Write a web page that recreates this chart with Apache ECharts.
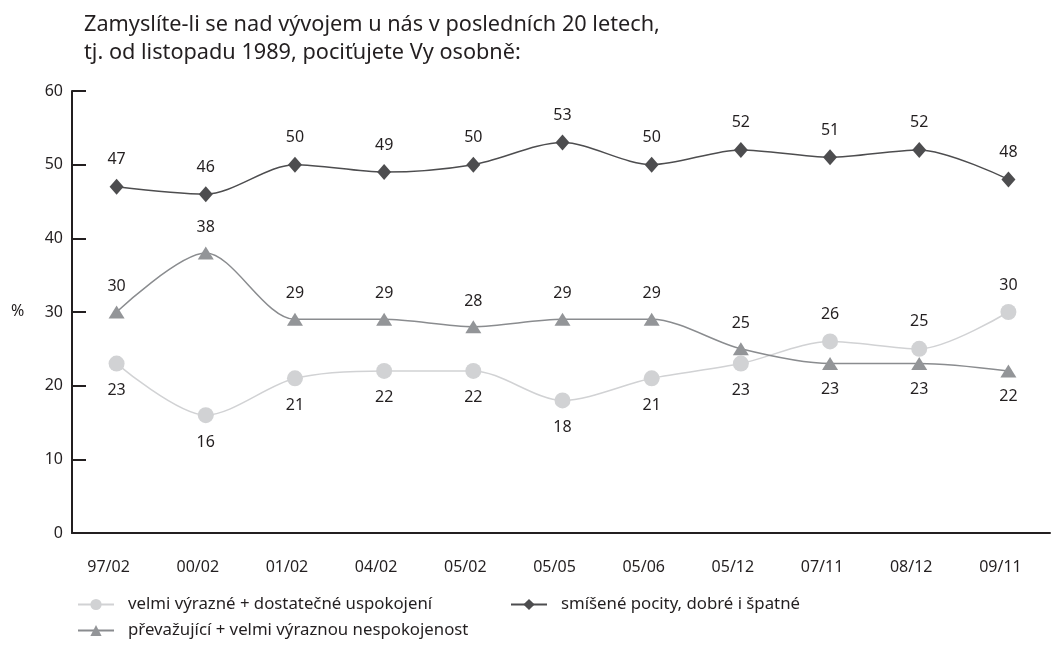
<!DOCTYPE html>
<html>
<head>
<meta charset="utf-8">
<script src="https://cdn.jsdelivr.net/npm/echarts@6/dist/echarts.min.js"></script>
<style>
  html, body { margin: 0; padding: 0; background: #fff; }
  #chart { width: 1053px; height: 647px; }
</style>
</head>
<body>
<div id="chart"></div>
<script>
// data
const categories = ['97/02', '00/02', '01/02', '04/02', '05/02', '05/05', '05/06', '05/12', '07/11', '08/12', '09/11']
const spokojeni = [23, 16, 21, 22, 22, 18, 21, 23, 26, 25, 30]
const smiseni = [47, 46, 50, 49, 50, 53, 50, 52, 51, 52, 48]
const nespokojeni = [30, 38, 29, 29, 28, 29, 29, 25, 23, 23, 22]
const yTicks = [0, 10, 20, 30, 40, 50, 60]

const nameSpok = 'velmi výrazné + dostatečné uspokojení'
const nameSmis = 'smíšené pocity, dobré i špatné'
const nameNesp = 'převažující + velmi výraznou nespokojenost'

const ink = '#231f20'
const font = 'Noto Sans'

let myChart = echarts.init(document.getElementById('chart'))

// popisky: kruh nad trojuhelnikem -> nahoru, jinak dolu
function withLabels (values, other, aboveIfGreater) {
  return values.map((v, i) => {
    let up = aboveIfGreater ? v > other[i] : v >= other[i]
    return { value: v, label: { position: up ? 'top' : 'bottom' } }
  })
}

let labelStyle = {
  show: true,
  color: ink,
  fontFamily: font,
  fontSize: 16,
  distance: 11
}

let legendBase = {
  padding: 0,
  itemWidth: 36,
  itemHeight: 14,
  itemGap: 12,
  textStyle: { color: ink, fontFamily: font, fontSize: 16.8, padding: [0, 0, 0, 9] }
}

let option = {
  backgroundColor: '#fff',
  animation: false,
  textStyle: { fontFamily: font },
  graphic: [
    {
      type: 'text',
      left: 84,
      top: 11,
      style: {
        text: 'Zamyslíte-li se nad vývojem u nás v posledních 20 letech,\ntj. od listopadu 1989, pociťujete Vy osobně:',
        font: '21.7px "Noto Sans"',
        fill: ink,
        lineHeight: 28
      }
    },
    {
      type: 'text',
      left: 11,
      top: 303,
      style: { text: '%', font: '16px "Noto Sans"', fill: ink }
    }
  ],
  grid: [
    { left: 72, right: 3, top: 91, bottom: 114 },
    { left: 72, width: 991, top: 91, bottom: 114 }
  ],
  legend: [
    Object.assign({ data: [nameSpok], left: 77, top: 596 }, legendBase),
    Object.assign({ data: [nameSmis], left: 510, top: 596 }, legendBase),
    Object.assign({ data: [nameNesp], left: 77, top: 622 }, legendBase)
  ],
  xAxis: [
    {
      type: 'category',
      gridIndex: 0,
      data: new Array(13).fill(''),
      boundaryGap: true,
      axisLine: { lineStyle: { color: ink, width: 2 } },
      axisTick: { inside: true, length: 9, lineStyle: { color: ink, width: 2 } },
      axisLabel: { show: false }
    },
    {
      type: 'category',
      gridIndex: 1,
      data: categories,
      boundaryGap: true,
      axisLine: { show: false },
      axisTick: { show: false },
      axisLabel: {
        color: ink,
        fontFamily: font,
        fontSize: 16,
        margin: 26,
        padding: [0, 16, 0, 0]
      }
    }
  ],
  yAxis: [
    {
      type: 'value',
      gridIndex: 0,
      min: yTicks[0],
      max: yTicks[yTicks.length - 1],
      interval: 10,
      axisLine: { show: true, lineStyle: { color: ink, width: 2 } },
      axisTick: { show: true, inside: true, length: 14, lineStyle: { color: ink, width: 2 } },
      axisLabel: { color: ink, fontFamily: font, fontSize: 16, margin: 9 },
      splitLine: { show: false }
    },
    {
      type: 'value',
      gridIndex: 1,
      min: yTicks[0],
      max: yTicks[yTicks.length - 1],
      show: false
    }
  ],
  series: [
    {
      name: nameSpok,
      type: 'line',
      xAxisIndex: 1,
      yAxisIndex: 1,
      smooth: 0.3,
      symbol: 'circle',
      symbolSize: 16,
      itemStyle: { color: '#d1d2d4' },
      lineStyle: { color: '#d1d2d4', width: 1.5 },
      label: labelStyle,
      data: withLabels(spokojeni, nespokojeni, true)
    },
    {
      name: nameSmis,
      type: 'line',
      xAxisIndex: 1,
      yAxisIndex: 1,
      smooth: 0.3,
      symbol: 'diamond',
      symbolSize: [14, 16],
      itemStyle: { color: '#4d4d4f' },
      lineStyle: { color: '#4d4d4f', width: 1.5 },
      label: Object.assign({}, labelStyle, { position: 'top' }),
      data: smiseni
    },
    {
      name: nameNesp,
      type: 'line',
      xAxisIndex: 1,
      yAxisIndex: 1,
      smooth: 0.3,
      symbol: 'triangle',
      symbolSize: [16, 13],
      itemStyle: { color: '#939598' },
      lineStyle: { color: '#8a8c8f', width: 1.5 },
      label: labelStyle,
      data: withLabels(nespokojeni, spokojeni, false)
    }
  ]
}
myChart.setOption(option)
window.onresize = function () {
  myChart.resize()
}
</script>
</body>
</html>
